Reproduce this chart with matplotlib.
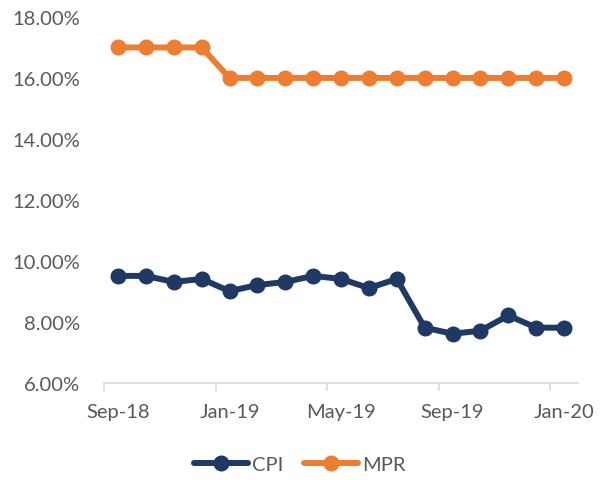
import matplotlib.pyplot as plt
import matplotlib
matplotlib.rcParams['font.family'] = ['Lato', 'DejaVu Sans']
matplotlib.rcParams['font.size'] = 14.5

months = ['Sep-18', 'Oct-18', 'Nov-18', 'Dec-18', 'Jan-19', 'Feb-19', 'Mar-19',
          'Apr-19', 'May-19', 'Jun-19', 'Jul-19', 'Aug-19', 'Sep-19', 'Oct-19',
          'Nov-19', 'Dec-19', 'Jan-20']
cpi = [9.5, 9.5, 9.3, 9.4, 9.0, 9.2, 9.3, 9.5, 9.4, 9.1, 9.4,
       7.8, 7.6, 7.7, 8.2, 7.8, 7.8]
mpr = [17, 17, 17, 17, 16, 16, 16, 16, 16, 16, 16,
       16, 16, 16, 16, 16, 16]
yticks = [6, 8, 10, 12, 14, 16, 18]

fig = plt.figure(figsize=(6.12, 4.81), dpi=100)
ax = fig.add_axes([0.170, 0.2027, 0.7745, 0.7599])

x = list(range(len(months)))
ax.plot(x, cpi, color='#1F3864', linewidth=4.3, marker='o', markersize=10.5,
        label='CPI', solid_joinstyle='round', solid_capstyle='round')
ax.plot(x, mpr, color='#ED7D31', linewidth=4.3, marker='o', markersize=10.5,
        label='MPR', solid_joinstyle='round', solid_capstyle='round')

ax.set_xlim(-0.5, len(months) - 0.5)
ax.set_ylim(6, 18)
ax.set_yticks(yticks)
ax.set_yticklabels(['%.2f%%' % v for v in yticks])

ax.set_xticks(x[::4])
ax.set_xticklabels(months[::4])
ax.set_xticks([i - 0.5 for i in range(0, len(months) + 1, 4)], minor=True)
ax.tick_params(axis='x', which='major', length=0, pad=15, colors='#595959')
ax.tick_params(axis='x', which='minor', length=6, width=1.2, color='#D9D9D9')
ax.tick_params(axis='y', length=0, pad=17, colors='#595959')

for s in ['top', 'right', 'left']:
    ax.spines[s].set_visible(False)
ax.spines['bottom'].set_color('#D9D9D9')
ax.spines['bottom'].set_linewidth(1.2)

leg = fig.legend(loc='center', bbox_to_anchor=(0.49, 0.033), ncol=2, frameon=False,
                 handlelength=2.7, handletextpad=0.2, columnspacing=1.0)
for t in leg.get_texts():
    t.set_color('#595959')

fig.savefig('out.png', dpi=100)
plt.close()
